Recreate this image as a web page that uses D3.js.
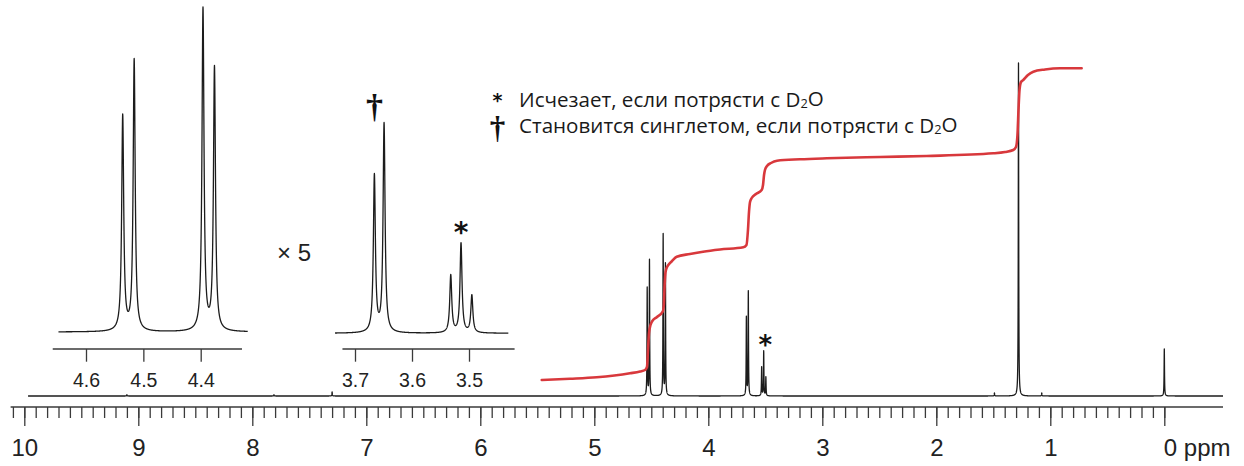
<!DOCTYPE html>
<html><head><meta charset="utf-8">
<script src="https://cdn.jsdelivr.net/npm/d3@7"></script>
<style>body{margin:0;background:#fff}svg{display:block}</style>
</head><body><svg id="c" width="1244" height="466"></svg>
<script>
// ---------- data ----------
const peakPpm    = [9.10, 7.81, 7.30, 4.536, 4.516, 4.396, 4.376, 3.666, 3.649, 3.532, 3.514, 3.495, 1.490, 1.279, 1.075, 0.000];
const peakHeight = [1.2,  1.2,  4.0,  107.5, 135.5, 161.0, 131.5, 78.3,  104.2, 28.7,  44.7,  18.7,  3.0,   333,   3.0,   47];
const lineHalfWidth = 0.0021;           // ppm, Lorentzian HWHM
const spectrumRange = [9.967, -0.515];  // ppm window of the main trace
const inset1Range = [4.648, 4.318];
const inset2Range = [3.735, 3.431];
const inset1AxisRange = [4.658, 4.328];
const inset2AxisRange = [3.722, 3.420];
const mainAxisRange = [10.12, -0.515];

const mainTicks = [10, 9, 8, 7, 6, 5, 4, 3, 2, 1, 0];
const mainTickLabels = ["10", "9", "8", "7", "6", "5", "4", "3", "2", "1", "0 ppm"];
const inset1Ticks = [4.6, 4.5, 4.4];
const inset1TickLabels = ["4.6", "4.5", "4.4"];
const inset2Ticks = [3.7, 3.6, 3.5];
const inset2TickLabels = ["3.7", "3.6", "3.5"];

const integralPpm = [5.461, 5.213, 4.979, 4.687, 4.599, 4.555, 4.538, 4.529, 4.520, 4.507, 4.494, 4.450, 4.400, 4.390, 4.383, 4.375, 4.362, 4.351, 4.318, 4.277, 4.161, 4.046, 3.897, 3.693, 3.665, 3.652, 3.643, 3.634, 3.619, 3.582, 3.532, 3.520, 3.511, 3.503, 3.485, 3.450, 3.397, 3.196, 2.961, 2.494, 2.084, 1.500, 1.397, 1.325, 1.301, 1.288, 1.279, 1.270, 1.257, 1.237, 1.196, 1.149, 1.046, 0.915, 0.725];
const integralValue = [0, 1.2, 2.7, 6.7, 8.5, 10, 13, 30, 47, 55, 58.5, 63, 68.3, 75, 95, 108, 113, 115, 119, 123.3, 126, 128.3, 130.5, 132.7, 135, 150, 168, 178, 182, 186, 190, 195, 205, 210, 214, 217, 219.3, 220.7, 221.7, 223, 224, 226.7, 228, 230, 233, 245, 270, 290, 298, 300, 305, 308.3, 310.5, 311.7, 311.7];

const starPpm = 3.514;     // "*" marked peak
const daggerPpm = 3.666;   // "†" marked multiplet
const legendSymbols = ["*", "†"];
const legendTexts = [["Исчезает, если потрясти с D", "2", "O"],
                     ["Становится синглетом, если потрясти с D", "2", "O"]];
const zoomLabel = "× 5";

// ---------- helpers ----------
function intensity(p) {
  let s = 0;
  for (let i = 0; i < peakPpm.length; i++) {
    const t = (p - peakPpm[i]) / lineHalfWidth;
    s += peakHeight[i] / (1 + t * t);
  }
  return s;
}
function sampleSpectrum(range, step) {
  const hi = range[0], lo = range[1];
  const pts = d3.range(hi, lo, -step);
  pts.push(lo);
  peakPpm.forEach(p => { if (p < hi && p > lo) pts.push(p); });
  pts.sort((a, b) => b - a);
  return pts.map(p => [p, intensity(p)]);
}

const svg = d3.select("#c");
const ink = "#1c1c1c";
const axisInk = "#3a3a3a";
const sans = "'Liberation Sans', Arial, Helvetica, sans-serif";
const starFont = "'DejaVu Sans', sans-serif";
const serif = "'Liberation Serif', 'Times New Roman', serif";

// ---------- scales ----------
const x = d3.scaleLinear().domain([10, 0]).range([24.3, 1164.3]);
const y = d3.scaleLinear().domain([0, 340]).range([396, 56]);
const yInt = d3.scaleLinear().domain([0, 312]).range([380, 68]);
const x1 = d3.scaleLinear().domain([4.6, 4.4]).range([86, 200.7]);
const y1 = d3.scaleLinear().domain([0, 170]).range([332, -8]);
const x2 = d3.scaleLinear().domain([3.7, 3.5]).range([355, 469]);
const y2 = d3.scaleLinear().domain([0, 170]).range([333.3, -6.7]);

// ---------- main spectrum ----------
svg.append("path")
  .datum(sampleSpectrum(spectrumRange, 0.0005))
  .attr("fill", "none").attr("stroke", ink).attr("stroke-width", 1.3)
  .attr("stroke-linejoin", "round")
  .attr("d", d3.line().x(d => x(d[0])).y(d => y(d[1])));

// ---------- insets ----------
function drawInset(xs, ys, range, axisRange, ticks, labels, axisY) {
  svg.append("path")
    .datum(sampleSpectrum(range, 0.0002))
    .attr("fill", "none").attr("stroke", ink).attr("stroke-width", 1.3)
    .attr("stroke-linejoin", "round")
    .attr("d", d3.line().x(d => xs(d[0])).y(d => ys(d[1])));
  const ax = d3.axisBottom(xs).tickValues(ticks).tickFormat((d, i) => labels[i])
    .tickSize(12.7).tickPadding(11).tickSizeOuter(0);
  const g = svg.append("g").attr("transform", `translate(0,${axisY})`).call(ax);
  g.select(".domain").remove();
  g.append("line").attr("x1", xs(axisRange[0])).attr("x2", xs(axisRange[1]))
    .attr("stroke", axisInk).attr("stroke-width", 1.3);
  g.selectAll(".tick line").attr("stroke", axisInk).attr("stroke-width", 1.3);
  g.selectAll(".tick text").attr("font-family", sans).attr("font-size", 19.5).attr("fill", "#222");
}
drawInset(x1, y1, inset1Range, inset1AxisRange, inset1Ticks, inset1TickLabels, 349);
drawInset(x2, y2, inset2Range, inset2AxisRange, inset2Ticks, inset2TickLabels, 349);

// ---------- integral ----------
svg.append("path")
  .datum(integralPpm.map((p, i) => [p, integralValue[i]]))
  .attr("fill", "none").attr("stroke", "#d8383c").attr("stroke-width", 2.6)
  .attr("stroke-linejoin", "round").attr("stroke-linecap", "round")
  .attr("d", d3.line().curve(d3.curveMonotoneX).x(d => x(d[0])).y(d => yInt(d[1])));

// ---------- main axis ----------
const axisG = svg.append("g").attr("transform", "translate(0,407)");
const minorTicks = d3.range(0, 102).map(i => i / 10);
axisG.call(d3.axisBottom(x).tickValues(minorTicks).tickFormat("").tickSize(11).tickSizeOuter(0));
axisG.select(".domain").remove();
const majorG = svg.append("g").attr("transform", "translate(0,407)")
  .call(d3.axisBottom(x).tickValues(mainTicks).tickFormat((d, i) => mainTickLabels[i])
    .tickSize(19).tickPadding(13).tickSizeOuter(0));
majorG.select(".domain").remove();
axisG.append("line").attr("x1", x(mainAxisRange[0])).attr("x2", x(mainAxisRange[1]))
  .attr("stroke", axisInk).attr("stroke-width", 1.3);
svg.selectAll("g .tick line").attr("stroke", axisInk).attr("stroke-width", 1.3);
majorG.selectAll(".tick text").attr("font-family", sans).attr("font-size", 24).attr("fill", "#222");
majorG.selectAll(".tick text").filter((d) => d === 0)
  .attr("text-anchor", "start").attr("x", -1);

// ---------- annotations ----------
const starTop = intensity(starPpm);
svg.append("text").text(legendSymbols[0]).attr("x", x(starPpm) + 1.5).attr("y", y(starTop) + 3)
  .attr("text-anchor", "middle").attr("font-family", starFont).attr("font-weight", "bold")
  .attr("font-size", 26).attr("fill", "#111");
svg.append("text").text(legendSymbols[0]).attr("x", x2(starPpm)).attr("y", y2(starTop) - 1)
  .attr("text-anchor", "middle").attr("font-family", starFont).attr("font-weight", "bold")
  .attr("font-size", 28).attr("fill", "#111");
const daggerTop = Math.max(intensity(3.649), intensity(daggerPpm));
svg.append("text").text(legendSymbols[1]).attr("x", x2(daggerPpm)).attr("y", y2(daggerTop) - 4)
  .attr("text-anchor", "middle").attr("font-family", serif)
  .attr("font-weight", "bold").attr("font-size", 34).attr("fill", "#111");

svg.append("text").text(zoomLabel).attr("x", 277).attr("y", 261)
  .attr("font-family", sans).attr("font-size", 24).attr("fill", "#222");

// ---------- legend ----------
const legendX = 519, legendY = [106.5, 132.5];
svg.append("text").text(legendSymbols[0]).attr("x", 497.5).attr("y", 107)
  .attr("text-anchor", "middle").attr("font-family", starFont).attr("font-weight", "bold")
  .attr("font-size", 19).attr("fill", "#111");
svg.append("text").text(legendSymbols[1]).attr("x", 497.5).attr("y", 138)
  .attr("text-anchor", "middle").attr("font-family", serif)
  .attr("font-weight", "bold").attr("font-size", 31).attr("fill", "#111");
const legendNodes = legendTexts.map((parts, i) => {
  const t = svg.append("text").attr("x", legendX).attr("y", legendY[i])
    .attr("font-family", "'Open Sans', 'Noto Sans', sans-serif").attr("font-size", 18).attr("fill", "#1a1a1a");
  t.append("tspan").text(parts[0]);
  t.append("tspan").text(parts[1]).attr("font-size", "0.62em").attr("dy", "0.12em");
  t.append("tspan").text(parts[2]).attr("dy", "-0.075em");
  return t;
});
const w2 = legendNodes[1].node().getComputedTextLength();
const fs = 18 * 439 / w2;
legendNodes.forEach(t => t.attr("font-size", fs));
</script></body></html>
